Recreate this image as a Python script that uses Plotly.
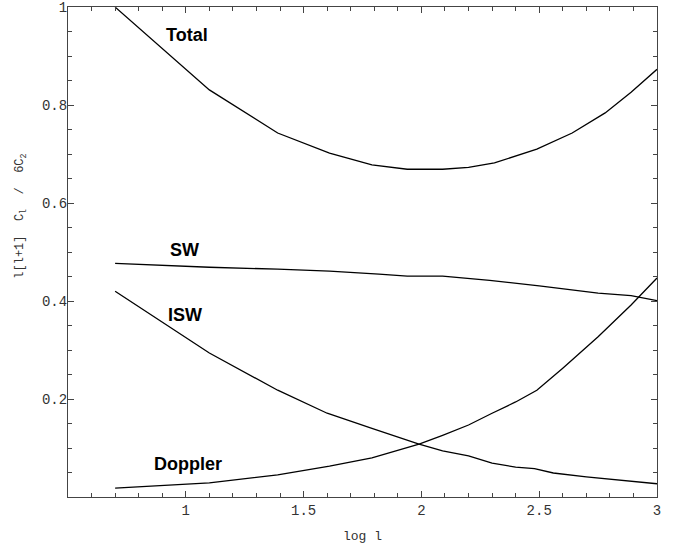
import plotly.graph_objects as go

# Data
total_x = [0.7, 1.1, 1.39, 1.61, 1.79, 1.94, 2.09, 2.2, 2.31, 2.49, 2.64, 2.78, 2.89, 3.0]
total_y = [1.0, 0.831, 0.743, 0.702, 0.678, 0.669, 0.669, 0.673, 0.682, 0.710, 0.743, 0.784, 0.826, 0.873]

sw_x = [0.7, 1.1, 1.39, 1.61, 1.82, 1.94, 2.09, 2.29, 2.5, 2.75, 2.89, 3.0]
sw_y = [0.477, 0.469, 0.465, 0.461, 0.455, 0.451, 0.451, 0.442, 0.431, 0.416, 0.411, 0.401]

isw_x = [0.7, 1.1, 1.39, 1.6, 1.79, 1.99, 2.09, 2.2, 2.3, 2.4, 2.48, 2.56, 2.7, 2.81, 3.0]
isw_y = [0.42, 0.294, 0.218, 0.171, 0.140, 0.108, 0.094, 0.084, 0.069, 0.061, 0.058, 0.049, 0.041, 0.036, 0.027]

dop_x = [0.7, 1.1, 1.39, 1.61, 1.79, 1.99, 2.09, 2.2, 2.3, 2.4, 2.49, 2.6, 2.75, 2.89, 3.0]
dop_y = [0.018, 0.029, 0.045, 0.063, 0.080, 0.108, 0.126, 0.147, 0.171, 0.194, 0.218, 0.263, 0.327, 0.392, 0.447]

labels = ["Total", "SW", "ISW", "Doppler"]
label_x = [1.004, 0.996, 0.996, 1.008]
label_y = [0.943, 0.504, 0.372, 0.068]

x_tickvals = [1, 1.5, 2, 2.5, 3]
x_ticktext = ["1", "1.5", "2", "2.5", "3"]
y_tickvals = [0.2, 0.4, 0.6, 0.8, 1.0]
y_ticktext = ["0.2", "0.4", "0.6", "0.8", "1"]

x_title = "log l"
y_title = "l[l+1]  C<sub>l</sub>  /  6C<sub>2</sub>"

fig = go.Figure()
line = dict(color="black", width=1.3)
for xs, ys in [(total_x, total_y), (sw_x, sw_y), (isw_x, isw_y), (dop_x, dop_y)]:
    fig.add_trace(go.Scatter(x=xs, y=ys, mode="lines", line=line, showlegend=False, hoverinfo="skip"))

for t, lx, ly in zip(labels, label_x, label_y):
    fig.add_annotation(x=lx, y=ly, text="<b>" + t + "</b>", showarrow=False,
                       xanchor="center", yanchor="middle",
                       font=dict(family="Liberation Sans Narrow, Arial Narrow, Liberation Sans", size=18, color="black"))

mono = "Liberation Mono, Courier New, monospace"

# rotated y-axis title, placed like the reference (above centre)
fig.add_annotation(xref="paper", yref="paper", x=-0.079, y=0.573, text=y_title, textangle=-90,
                   showarrow=False, xanchor="center", yanchor="middle",
                   font=dict(family=mono, size=12, color="#333"))

axis_common = dict(
    showline=True, linecolor="#444", linewidth=1.2, mirror="ticks",
    ticks="inside", ticklen=6, tickcolor="#444", tickwidth=1,
    showgrid=False, zeroline=False, ticklabeloverflow="allow",
    tickfont=dict(family=mono, size=14, color="#333"),
)

fig.update_xaxes(range=[0.5, 3.0], tickvals=x_tickvals, ticktext=x_ticktext,
                 minor=dict(dtick=0.1, tick0=0.5, ticks="inside", ticklen=4, tickcolor="#444", showgrid=False),
                 title=dict(text=x_title, font=dict(family=mono, size=13, color="#333"), standoff=12),
                 automargin=False, **axis_common)
fig.update_yaxes(range=[0.0, 1.0002], tickvals=y_tickvals, ticktext=y_ticktext,
                 minor=dict(dtick=0.05, tick0=0, ticks="inside", ticklen=4, tickcolor="#444", showgrid=False),
                 ticklabelstandoff=-3,
                 automargin=False, **axis_common)

fig.update_layout(width=688, height=550, margin=dict(l=68, r=31, t=7, b=53, autoexpand=False),
                  plot_bgcolor="white", paper_bgcolor="white")

fig.write_html("out.html", config={"displayModeBar": False},
               post_script="document.body.style.margin='0';")
